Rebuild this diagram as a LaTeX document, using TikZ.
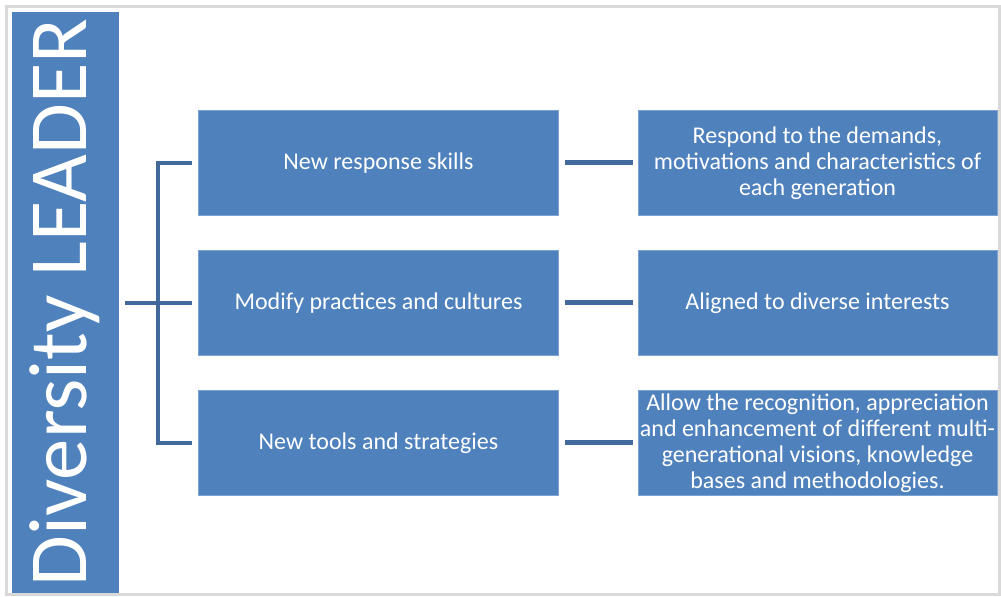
\documentclass[tikz,border=0pt]{standalone}
\usepackage{fontspec}
\setmainfont{Carlito}
\definecolor{boxblue}{HTML}{4F81BD}
\definecolor{boxedge}{HTML}{7EA3D3}
\definecolor{linkblue}{HTML}{41699B}
\definecolor{framegray}{HTML}{D9D9D9}
\begin{document}
\begin{tikzpicture}[
        x=0.5pt, y=-0.5pt,
        item/.style={fill=boxblue, draw=boxedge, line width=0.4pt, text=white,
            minimum width=180pt, minimum height=52.5pt, inner sep=0pt,
            align=center, font=\fontsize{12}{13}\selectfont},
        note/.style={item, minimum width=179.5pt},
        link/.style={draw=linkblue, line width=2pt},
        arm/.style={draw=linkblue, line width=2.5pt}
    ]

    % page and frame
    \useasboundingbox (0,0) rectangle (1001,597);
    \fill[white] (0,0) rectangle (1001,597);
    \draw[framegray, line width=1.5pt] (6.5,6.5) rectangle (999,594.5);

    % left title bar
    \fill[boxblue] (12,12) rectangle (119,593);
    \coordinate (lead) at (119,302.5);
    \node[rotate=90, anchor=base, text=white, inner sep=0pt,
        font=\fontsize{41.3}{41}\selectfont] (title) at (86,302.5) {Diversity LEADER};

    % first column
    \node[item] (skills)    at (378.5,163) {New response skills};
    \node[item] (practices) at (378.5,303) {Modify practices and cultures};
    \node[item] (tools)     at (378.5,443) {New tools and strategies};

    % second column
    \node[note] (demands) at (817.5,163)
        {Respond to the demands,\\motivations and characteristics of\\each generation};
    \node[note] (interests) at (817.5,303) {Aligned to diverse interests};
    \node[note] (visions) at (817.5,443)
        {Allow the recognition, appreciation\\and enhancement of different multi-\\generational visions, knowledge\\bases and methodologies.};

    % bracket from the title bar
    \coordinate (fork) at (158,303);
    \draw[link] ([xshift=3pt]lead |- fork) -- (fork);
    \draw[link] ([xshift=-3pt]skills.west) -| (fork) |- ([xshift=-3pt]tools.west);
    \draw[link] (fork) -- ([xshift=-3pt]practices.west);

    % links to the second column
    \draw[arm] ([xshift=3pt]skills.east) -- ([xshift=-2.5pt]demands.west);
    \draw[arm] ([xshift=3pt]practices.east) -- ([xshift=-2.5pt]interests.west);
    \draw[arm] ([xshift=3pt]tools.east) -- ([xshift=-2.5pt]visions.west);

\end{tikzpicture}
\end{document}
